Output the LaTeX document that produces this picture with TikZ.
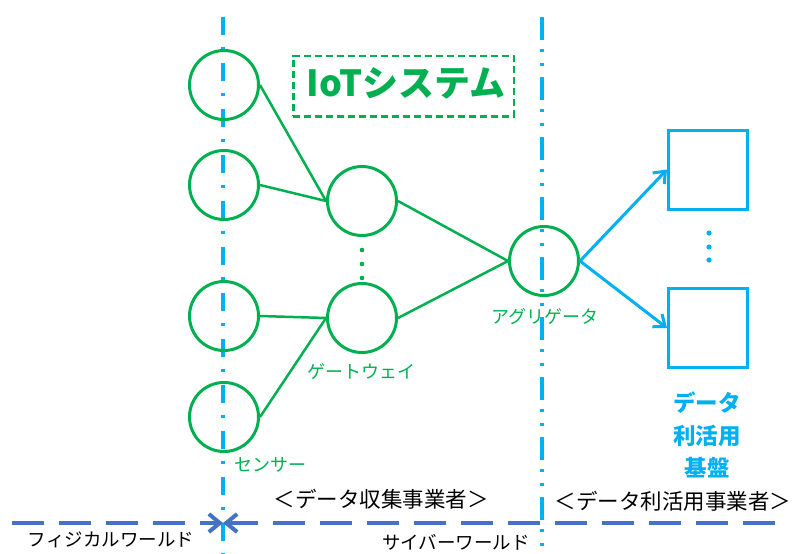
\documentclass[tikz,border=0pt]{standalone}
\usepackage{fontspec}
\setmainfont{Noto Sans CJK JP}
\usetikzlibrary{arrows.meta}
\definecolor{grn}{HTML}{00B050}
\definecolor{cyanb}{HTML}{00B0F0}
\definecolor{dblue}{HTML}{4472C4}
\begin{document}
\begin{tikzpicture}[x=1pt,y=-1pt,
  circ/.style={circle, draw=grn, line width=3pt, minimum size=69pt, inner sep=0pt},
  sbox/.style={rectangle, draw=cyanb, line width=3pt, minimum width=79pt, minimum height=79pt, inner sep=0pt},
  glabel/.style={text=grn, inner sep=0pt, font=\fontsize{18}{20}\selectfont},
  blabel/.style={text=black, inner sep=0pt, font=\fontsize{21.5}{24}\selectfont},
  wlabel/.style={text=black, inner sep=0pt, font=\fontsize{18.5}{21}\selectfont},
  clabel/.style={text=cyanb, inner sep=0pt, font=\fontsize{22.5}{24}\selectfont\bfseries},
  link/.style={draw=grn, line width=2.5pt},
  flow/.style={draw=cyanb, line width=3pt, -{Straight Barb[length=10pt,width=16pt]}},
  borderA/.style={draw=cyanb, line width=3.5pt, dash pattern=on 18pt off 12pt on 3pt off 13pt},
  borderB/.style={draw=cyanb, line width=3.5pt, dash pattern=on 23pt off 9pt on 3pt off 11pt on 3pt off 11pt},
  world/.style={draw=dblue, line width=4pt, dash pattern=on 32pt off 15pt, -{Straight Barb[length=11pt,width=18pt]}},
  dotmark/.style={fill=grn},
]
\useasboundingbox (0,0) rectangle (796,554);
% vertical boundaries
\coordinate (vt1) at (223,17);
\coordinate (vb1) at (223,554);
\coordinate (vt2) at (542,17);
\coordinate (vb2) at (542,554);
\draw[borderA] (vt1) -- (vb1);
\draw[borderB] (vt2) -- (vb2);
% horizontal world line
\coordinate (wl) at (12,523);
\coordinate (wr) at (775,523);
\coordinate (wc) at (223,523);
\draw[world] (wl) -- (wc);
\draw[world] (wr) -- (wc);
% IoT system box
\node[draw=grn, line width=2.5pt, dash pattern=on 7pt off 4pt, minimum width=220.5pt, minimum height=60.5pt, inner sep=0pt] (iotbox) at (403.5,86) {};
\node[text=grn, inner sep=0pt, font=\fontsize{36}{38}\selectfont\bfseries] (iot) at (406,83) {IoTシステム};
% sensors
\node[circ] (s1) at (224,85) {};
\node[circ] (s2) at (224,185) {};
\node[circ] (s3) at (224,316) {};
\node[circ] (s4) at (224,417) {};
% gateways
\node[circ] (g1) at (362,201) {};
\node[circ] (g2) at (362,318) {};
% aggregator
\node[circ] (ag) at (544,261) {};
% data boxes
\node[sbox] (b1) at (708,169.5) {};
\node[sbox] (b2) at (708,328) {};
% links
\draw[link] (s1.east) -- (g1.west);
\draw[link] (s2.east) -- (g1.west);
\draw[link] (s3.east) -- (g2.west);
\draw[link] (s4.east) -- (g2.west);
\draw[link] (g1.east) -- (ag.west);
\draw[link] (g2.east) -- (ag.west);
\draw[flow] (ag.east) -- (b1.west);
\draw[flow] (ag.east) -- (b2.west);
% dots
\fill[dotmark] (362,250) circle (2.3pt);
\fill[dotmark] (362,264) circle (2.3pt);
\fill[dotmark] (362,278) circle (2.3pt);
\fill[cyanb] (709,233) circle (2.6pt);
\fill[cyanb] (709,247) circle (2.6pt);
\fill[cyanb] (709,260) circle (2.6pt);
% labels
\node[glabel] (lsens) at (270,465) {センサー};
\node[glabel] (lgw) at (361,372) {ゲートウェイ};
\node[glabel] (lag) at (545,317) {アグリゲータ};
\node[clabel] (ld1) at (707,403) {データ};
\node[clabel] (ld2) at (707,436) {利活用};
\node[clabel] (ld3) at (707,468) {基盤};
\node[blabel] (lcol) at (381,499) {＜データ収集事業者＞};
\node[blabel] (luse) at (673,501) {＜データ利活用事業者＞};
\node[wlabel] (lphy) at (111,540) {フィジカルワールド};
\node[wlabel] (lcyb) at (456,542) {サイバーワールド};
\end{tikzpicture}
\end{document}
